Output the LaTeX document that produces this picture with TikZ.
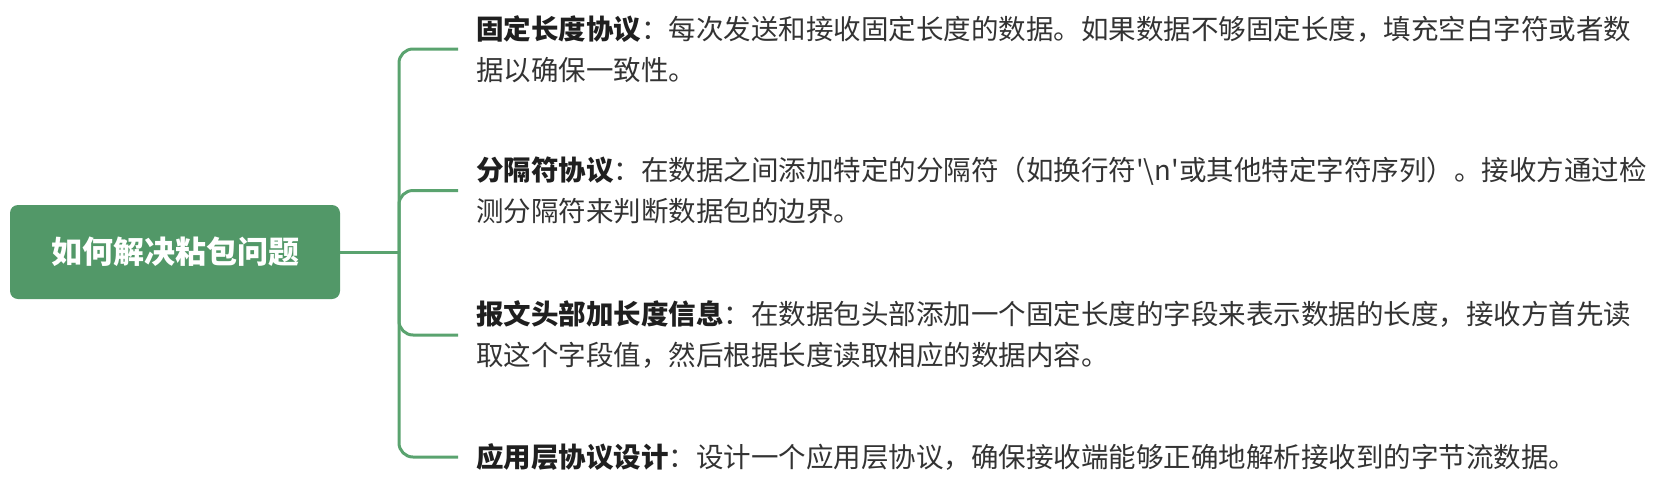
\documentclass[tikz,border=0pt]{standalone}
\usepackage{fontspec}
\setmainfont{Noto Sans CJK SC}[Ligatures=TeXOff]
\usetikzlibrary{positioning}
\definecolor{boxgreen}{RGB}{82,152,104}
\definecolor{linegreen}{RGB}{90,163,111}
\definecolor{txtgray}{RGB}{51,51,51}
\newcommand{\ttl}[1]{{\bfseries\color{black!88}#1}}
\tikzset{
  rootbox/.style={fill=boxgreen,rounded corners=8pt,minimum width=330pt,minimum height=94pt,
    text=white,font=\fontsize{31}{36}\selectfont\bfseries},
  leaf/.style={anchor=west,inner xsep=18pt,inner ysep=0pt,align=left,text=txtgray,
    font=\fontsize{27.5}{41}\selectfont},
  branch/.style={linegreen,line width=3pt,rounded corners=14pt}
}
\begin{document}
\begin{tikzpicture}[x=1pt,y=-1pt]
    \useasboundingbox (0,0) rectangle (1660,491);
    \node[rootbox] (root) at (175,252) {如何解决粘包问题};
    \coordinate (trunk) at (399,252);
    \node[leaf] (fixed) at (458,49) {\ttl{固定长度协议}：每次发送和接收固定长度的数据。如果数据不够固定长度，填充空白字符或者数\\据以确保一致性。};
    \node[leaf] (delim) at (458,190.5) {\ttl{分隔符协议}：在数据之间添加特定的分隔符（如换行符'\textbackslash n'或其他特定字符序列）。接收方通过检\\测分隔符来判断数据包的边界。};
    \node[leaf] (header) at (458,335) {\ttl{报文头部加长度信息}：在数据包头部添加一个固定长度的字段来表示数据的长度，接收方首先读\\取这个字段值，然后根据长度读取相应的数据内容。};
    \node[leaf] (proto) at (458,457) {\ttl{应用层协议设计}：设计一个应用层协议，确保接收端能够正确地解析接收到的字节流数据。};
    \draw[branch] (root.east) -- (trunk);
    \draw[branch] (trunk) |- (fixed.west);
    \draw[branch] (trunk) |- (delim.west);
    \draw[branch] (trunk) |- (header.west);
    \draw[branch] (trunk) |- (proto.west);
\end{tikzpicture}
\end{document}
